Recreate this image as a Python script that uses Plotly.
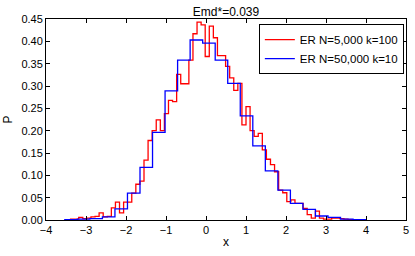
import numpy as np
import plotly.graph_objects as go

# ---- data ----
# ER N=5,000 k=100 : narrow bins
RED_LO, RED_HI = -3.488, 3.754
RED_P = [0.000, 0.002, 0.002, 0.006, 0.003, 0.004, 0.007, 0.008, 0.016, 0.007,
         0.008, 0.027, 0.040, 0.016, 0.040, 0.040, 0.060, 0.080, 0.087, 0.134,
         0.178, 0.200, 0.224, 0.200, 0.238, 0.268, 0.265, 0.326, 0.305, 0.305,
         0.358, 0.417, 0.443, 0.437, 0.366, 0.434, 0.408, 0.368, 0.368, 0.344,
         0.318, 0.290, 0.306, 0.213, 0.254, 0.200, 0.187, 0.194, 0.157, 0.136,
         0.124, 0.108, 0.067, 0.061, 0.041, 0.045, 0.037, 0.037, 0.026, 0.012,
         0.004, 0.020, 0.004, 0.002, 0.002, 0.004, 0.004, 0.003, 0.002, 0.001,
         0.001]
# ER N=50,000 k=10 : wide bins
BLUE_LO, BLUE_HI = -3.53, 3.99
BLUE_P = [0.001, 0.002, 0.003, 0.007, 0.025, 0.060, 0.118, 0.196, 0.289, 0.358,
          0.403, 0.396, 0.358, 0.306, 0.233, 0.166, 0.110, 0.067, 0.037, 0.024,
          0.009, 0.006, 0.002, 0.001]

SERIES = [("ER N=5,000 k=100", RED_LO, RED_HI, RED_P, "#ff0000"),
          ("ER N=50,000 k=10", BLUE_LO, BLUE_HI, BLUE_P, "#0000ff")]

X_TICKS = [-4, -3, -2, -1, 0, 1, 2, 3, 4, 5]
Y_TICKS = [0.00, 0.05, 0.10, 0.15, 0.20, 0.25, 0.30, 0.35, 0.40, 0.45]
TITLE = "Emd*=0.039"


def step_xy(lo, hi, vals):
    edges = np.linspace(lo, hi, len(vals) + 1)
    xs = [edges[0]] + list(edges[:-1]) + [edges[-1], edges[-1]]
    ys = [0.0] + list(vals) + [vals[-1], 0.0]
    return xs, ys


fig = go.Figure()
for name, lo, hi, vals, col in SERIES:
    xs, ys = step_xy(lo, hi, vals)
    fig.add_trace(go.Scatter(x=xs, y=ys, mode="lines", name=name,
                             line=dict(color=col, width=1.3, shape="hv")))

FONT = "Liberation Sans, Arial, sans-serif"
axis_common = dict(showline=True, linecolor="black", linewidth=1, mirror="allticks",
                   ticks="inside", ticklen=4, tickcolor="black", tickwidth=1,
                   showgrid=False, zeroline=False, automargin=False,
                   tickfont=dict(family=FONT, size=11, color="black"))

fig.update_layout(
    width=415, height=256,
    margin=dict(l=46, r=9, t=19, b=36, autoexpand=False),
    paper_bgcolor="white", plot_bgcolor="white",
    font=dict(family=FONT, size=11, color="black"),
    title=dict(text=TITLE, x=0.5, xref="paper", xanchor="center",
               y=1, yref="paper", yanchor="bottom", pad=dict(b=3),
               automargin=False,
               font=dict(family=FONT, size=12, color="black")),
    showlegend=True,
    legend=dict(x=0.994, xanchor="right", y=0.975, yanchor="top",
                bordercolor="black", borderwidth=1, bgcolor="white",
                font=dict(family=FONT, size=11.5, color="black"),
                itemwidth=30, tracegroupgap=0),
)
fig.update_xaxes(range=[-4.0001, 5.0001], tickvals=X_TICKS,
                 ticktext=[str(v).replace("-", "\u2212") for v in X_TICKS],
                 title=dict(text="x", standoff=2, font=dict(family=FONT, size=12)),
                 **axis_common)
fig.update_yaxes(range=[0, 0.45], tickvals=Y_TICKS,
                 ticktext=[f"{v:.2f}" for v in Y_TICKS],
                 title=dict(text="P", standoff=6, font=dict(family=FONT, size=12)),
                 **axis_common)

fig.write_html("out.html", config={"displayModeBar": False},
               post_script="document.body.style.margin='0px';")
